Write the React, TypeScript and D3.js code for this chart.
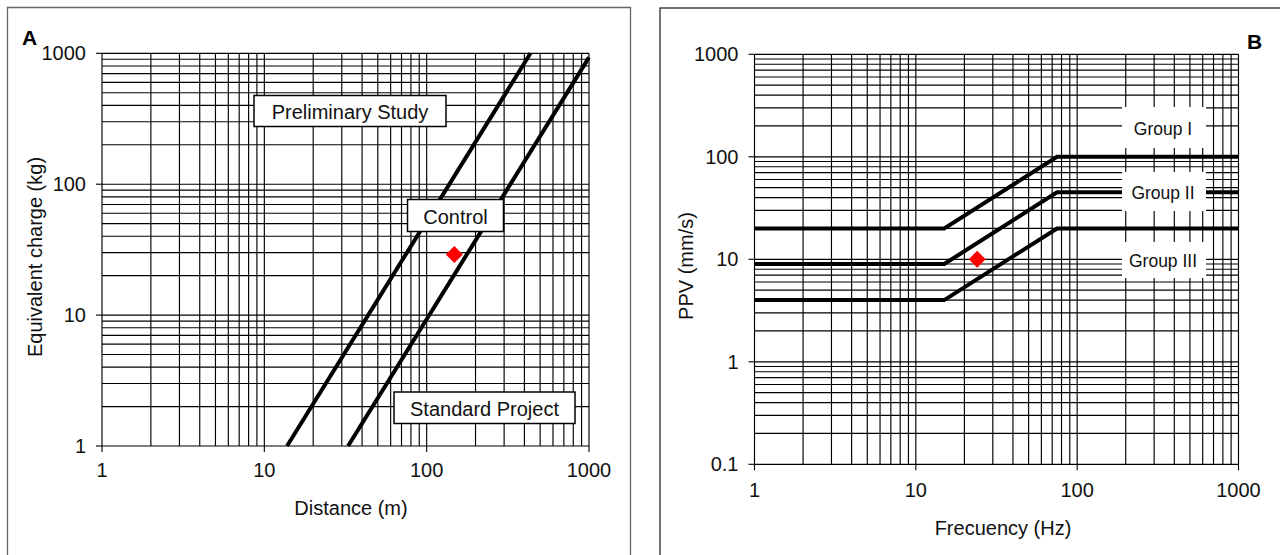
import React from "react";
import * as d3 from "d3";

// Panel A: charge vs distance criteria
const decadeTicksA = [1, 10, 100, 1000];
const boundaryPrelim: [number, number][] = [
  [13.8, 1],
  [436, 1000],
];
const boundaryStandard: [number, number][] = [
  [32.8, 1],
  [1000, 930],
];
const pointA: [number, number] = [148, 29];
const labelsA = ["Preliminary Study", "Control", "Standard Project"];

// Panel B: PPV vs frequency limits
const freqTicksB = [1, 10, 100, 1000];
const ppvTicksB = [0.1, 1, 10, 100, 1000];
const groupI: [number, number][] = [
  [1, 20],
  [15, 20],
  [75, 100],
  [1000, 100],
];
const groupII: [number, number][] = [
  [1, 9],
  [15, 9],
  [75, 45],
  [1000, 45],
];
const groupIII: [number, number][] = [
  [1, 4],
  [15, 4],
  [75, 20],
  [1000, 20],
];
const pointB: [number, number] = [24, 10];
const labelsB = ["Group I", "Group II", "Group III"];

const FONT = "'Liberation Sans', Arial, Helvetica, sans-serif";
const FS = 20;

const fmt = (v: number) => (v < 1 ? String(v) : d3.format("d")(v));

function Grid({ x, y }: { x: any; y: any }) {
  const [x0, x1] = x.range();
  const [y0, y1] = y.range();
  return (
    <g stroke="#000" strokeWidth={1.15}>
      {x.ticks().map((t: number, i: number) => (
        <line key={"vx" + i} x1={x(t)} x2={x(t)} y1={y0} y2={y1} />
      ))}
      {y.ticks().map((t: number, i: number) => (
        <line key={"hy" + i} x1={x0} x2={x1} y1={y(t)} y2={y(t)} />
      ))}
    </g>
  );
}

function Axes({ x, y, xt, yt, labelY }: any) {
  const [x0] = x.range();
  const [y0] = y.range();
  return (
    <g fontFamily={FONT} fontSize={FS} fill="#111">
      {xt.map((t: number) => (
        <g key={"xt" + t}>
          <line x1={x(t)} x2={x(t)} y1={y0} y2={y0 + 6} stroke="#000" strokeWidth={1.1} />
          <text x={x(t)} y={labelY} textAnchor="middle" dominantBaseline="central">
            {fmt(t)}
          </text>
        </g>
      ))}
      {yt.map((t: number) => (
        <g key={"yt" + t}>
          <line x1={x0 - 6} x2={x0} y1={y(t)} y2={y(t)} stroke="#000" strokeWidth={1.1} />
          <text x={x0 - 16} y={y(t)} textAnchor="end" dominantBaseline="central">
            {fmt(t)}
          </text>
        </g>
      ))}
    </g>
  );
}

function Diamond({ cx, cy }: { cx: number; cy: number }) {
  const r = 8.5;
  return (
    <path
      d={`M${cx},${cy - r}L${cx + r},${cy}L${cx},${cy + r}L${cx - r},${cy}Z`}
      fill="#ff0000"
    />
  );
}

export default function App() {
  // panel A scales
  const xA = d3.scaleLog().domain([1, 1000]).range([102, 589]);
  const yA = d3.scaleLog().domain([1, 1000]).range([446, 53.3]);
  const lineA = d3
    .line<[number, number]>()
    .x((d) => xA(d[0]))
    .y((d) => yA(d[1]));

  // panel B scales
  const xB = d3.scaleLog().domain([1, 1000]).range([754.5, 1238.5]);
  const yB = d3.scaleLog().domain([0.1, 1000]).range([464.3, 54.3]);
  const lineB = d3
    .line<[number, number]>()
    .x((d) => xB(d[0]))
    .y((d) => yB(d[1]));

  const boxesA = [
    { x: 254, y: 95.5, w: 192, h: 31 },
    { x: 407.5, y: 199.5, w: 96, h: 32 },
    { x: 394, y: 392, w: 181, h: 31.5 },
  ];
  const boxesB = [
    { y: 107, h: 41 },
    { y: 172, h: 39 },
    { y: 242, h: 36 },
  ];

  return (
    <svg
      width={1280}
      height={555}
      style={{ position: "absolute", left: 0, top: 0, background: "#fff" }}
    >
      <rect width={1280} height={555} fill="#fff" />

      {/* panel frames */}
      <path d="M7.5,560V7.5H630.5V560" fill="none" stroke="#666" strokeWidth={1.3} />
      <path d="M660,560V8H1290" fill="none" stroke="#444" strokeWidth={1.5} />

      {/* ---- Panel A ---- */}
      <Grid x={xA} y={yA} />
      <Axes x={xA} y={yA} xt={decadeTicksA} yt={decadeTicksA} labelY={470} />
      <path d={lineA(boundaryPrelim) || ""} fill="none" stroke="#000" strokeWidth={4} />
      <path d={lineA(boundaryStandard) || ""} fill="none" stroke="#000" strokeWidth={4} />
      {labelsA.map((s, i) => (
        <g key={s}>
          <rect
            x={boxesA[i].x}
            y={boxesA[i].y}
            width={boxesA[i].w}
            height={boxesA[i].h}
            fill="#fff"
            stroke="#000"
            strokeWidth={1.5}
          />
          <text
            x={boxesA[i].x + boxesA[i].w / 2}
            y={boxesA[i].y + boxesA[i].h / 2 + 1}
            textAnchor="middle"
            dominantBaseline="central"
            fontFamily={FONT}
            fontSize={FS}
            fill="#111"
          >
            {s}
          </text>
        </g>
      ))}
      <Diamond cx={xA(pointA[0])} cy={yA(pointA[1])} />
      <text
        x={351}
        y={508}
        textAnchor="middle"
        dominantBaseline="central"
        fontFamily={FONT}
        fontSize={FS}
        fill="#111"
      >
        Distance (m)
      </text>
      <text
        transform="translate(35,257) rotate(-90)"
        textAnchor="middle"
        dominantBaseline="central"
        fontFamily={FONT}
        fontSize={FS}
        fill="#111"
      >
        Equivalent charge (kg)
      </text>
      <text x={22} y={45} fontFamily={FONT} fontSize={21} fontWeight="bold" fill="#000">
        A
      </text>

      {/* ---- Panel B ---- */}
      <Grid x={xB} y={yB} />
      <Axes x={xB} y={yB} xt={freqTicksB} yt={ppvTicksB} labelY={489.5} />
      {[groupI, groupII, groupIII].map((g, i) => (
        <path
          key={"g" + i}
          d={lineB(g) || ""}
          fill="none"
          stroke="#000"
          strokeWidth={4}
          strokeLinejoin="miter"
        />
      ))}
      {labelsB.map((s, i) => (
        <g key={s}>
          <rect x={1122} y={boxesB[i].y} width={84} height={boxesB[i].h} fill="#fff" />
          <text
            x={1163}
            y={boxesB[i].y + boxesB[i].h / 2 + 1}
            textAnchor="middle"
            dominantBaseline="central"
            fontFamily={FONT}
            fontSize={17.5}
            fill="#111"
          >
            {s}
          </text>
        </g>
      ))}
      <Diamond cx={xB(pointB[0])} cy={yB(pointB[1])} />
      <text
        x={1003}
        y={528}
        textAnchor="middle"
        dominantBaseline="central"
        fontFamily={FONT}
        fontSize={FS}
        fill="#111"
      >
        Frecuency (Hz)
      </text>
      <text
        transform="translate(686,266) rotate(-90)"
        textAnchor="middle"
        dominantBaseline="central"
        fontFamily={FONT}
        fontSize={FS}
        fill="#111"
      >
        PPV (mm/s)
      </text>
      <text x={1247} y={49} fontFamily={FONT} fontSize={21} fontWeight="bold" fill="#000">
        B
      </text>
    </svg>
  );
}
